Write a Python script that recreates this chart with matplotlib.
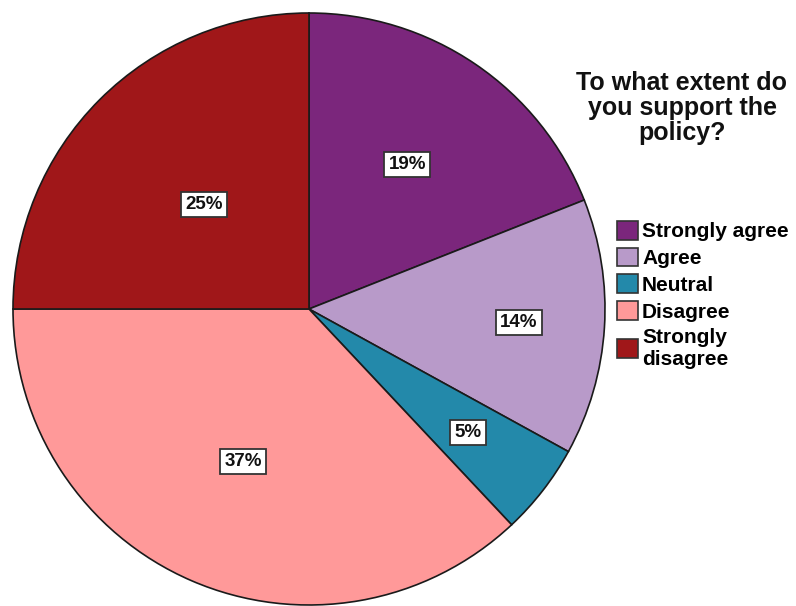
import numpy as np
import matplotlib.pyplot as plt
from matplotlib.patches import Patch

categories = ["Strongly agree", "Agree", "Neutral", "Disagree", "Strongly\ndisagree"]
percent = [19, 14, 5, 37, 25]
colors = ["#7b267c", "#b89ac9", "#2389aa", "#ff9999", "#a01719"]
# how far out each percentage box sits (fraction of radius)
label_radius = [0.59, 0.71, 0.68, 0.56, 0.50]

plt.rcParams["font.family"] = ["Liberation Sans", "DejaVu Sans"]

W, H = 796, 606
fig = plt.figure(figsize=(W / 100, H / 100), dpi=100)
fig.patch.set_facecolor("white")

cx, cy, r = 309, 309, 296
ax = fig.add_axes([(cx - r) / W, 1 - (cy + r) / H, 2 * r / W, 2 * r / H])
wedges, _ = ax.pie(percent, colors=colors, startangle=90, counterclock=False,
                   radius=1.0,
                   wedgeprops=dict(edgecolor="#1a1a1a", linewidth=1.2))
ax.set_xlim(-1, 1)
ax.set_ylim(-1, 1)
ax.set_aspect("equal")
ax.axis("off")

for w, p, rr in zip(wedges, percent, label_radius):
    mid = np.deg2rad((w.theta1 + w.theta2) / 2)
    ax.text(rr * np.cos(mid), rr * np.sin(mid), f"{p}%", ha="center", va="center",
            fontsize=13.5, fontweight="bold", color="#111111",
            bbox=dict(boxstyle="square,pad=0.22", facecolor="white",
                      edgecolor="#333333", linewidth=1.3))

fig.text(682 / W, 1 - 108 / H, "To what extent do\nyou support the\npolicy?",
         ha="center", va="center", fontsize=18, fontweight="bold",
         color="#111111", linespacing=1.06)

handles = [Patch(facecolor=c, edgecolor="#333333", linewidth=1.2) for c in colors]
fig.legend(handles, categories, loc="upper left",
           bbox_to_anchor=(617 / W, 1 - 221 / H), frameon=False,
           prop=dict(size=15, weight="bold"), handlelength=1.0, handleheight=1.0,
           handletextpad=0.2, labelspacing=0.3, borderaxespad=0, borderpad=0)

fig.savefig("out.png", dpi=100)
